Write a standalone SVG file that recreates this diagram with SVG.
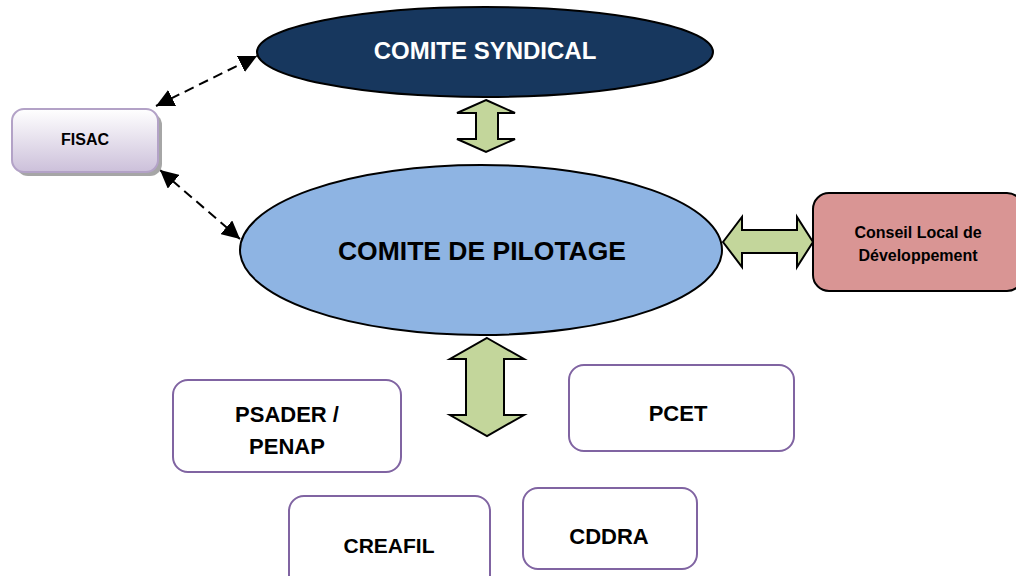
<svg xmlns="http://www.w3.org/2000/svg" width="1016" height="576" viewBox="0 0 1016 576">
<defs>
<style>
text{font-family:"Liberation Sans",Arial,sans-serif;font-weight:bold;text-anchor:middle;fill:#000}
.box{fill:#fff;stroke:#8064a2;stroke-width:2}
.big{fill:#c3d69b;stroke:#000;stroke-width:2;stroke-linejoin:miter}
.dash{stroke:#000;stroke-width:2;stroke-dasharray:10,6;fill:none}
</style>
<linearGradient id="fg" x1="0" y1="0" x2="0" y2="1">
<stop offset="0" stop-color="#ffffff"/>
<stop offset="1" stop-color="#ccc0da"/>
</linearGradient>
<marker id="ah2" viewBox="0 0 10 10" refX="10" refY="5" markerWidth="18" markerHeight="18" markerUnits="userSpaceOnUse" orient="auto-start-reverse">
<path d="M0,0 L10,5 L0,10 z" fill="#000"/>
</marker>
</defs>
<rect width="1016" height="576" fill="#fff"/>
<g id="connectors">
<line class="dash" x1="156" y1="106" x2="257" y2="56" marker-start="url(#ah2)" marker-end="url(#ah2)"/>
<line class="dash" x1="160" y1="170" x2="240" y2="239" marker-start="url(#ah2)" marker-end="url(#ah2)"/>
<path class="big" d="M486,100 L515,113 L498,113 L498,139 L515,139 L486,152 L457,139 L476,139 L476,113 L457,113 Z"/>
<path class="big" d="M487,338 L524,359 L504,359 L504,415 L524,415 L487,436 L450,415 L466,415 L466,359 L450,359 Z"/>
<path class="big" d="M723,242 L742,217 L742,230 L797,230 L797,217 L813,242 L797,267 L797,253 L742,253 L742,267 Z"/>
</g>
<g id="comite-syndical">
<ellipse cx="485" cy="52" rx="228" ry="45" fill="#17375e" stroke="#000" stroke-width="2"/>
<text x="485" y="59" font-size="24" style="fill:#fff">COMITE SYNDICAL</text>
</g>
<g id="comite-pilotage">
<ellipse cx="481" cy="250" rx="241" ry="85" fill="#8eb4e3" stroke="#000" stroke-width="2"/>
<text x="482" y="260" font-size="26.5">COMITE DE PILOTAGE</text>
</g>
<g id="fisac">
<rect x="16" y="113" width="146" height="63" rx="12" fill="#a6a6a6"/>
<rect x="12" y="109" width="146" height="63" rx="12" fill="url(#fg)" stroke="#b3a2c7" stroke-width="2"/>
<text x="85" y="145" font-size="16">FISAC</text>
</g>
<g id="conseil">
<rect x="813" y="193" width="210" height="98" rx="16" fill="#d99594" stroke="#000" stroke-width="2"/>
<text x="918" y="238" font-size="16">Conseil Local de</text>
<text x="918" y="261" font-size="16">Développement</text>
</g>
<g id="psader">
<rect class="box" x="173" y="380" width="228" height="92" rx="15"/>
<text x="287" y="422" font-size="22">PSADER /</text>
<text x="287" y="454" font-size="22">PENAP</text>
</g>
<g id="pcet">
<rect class="box" x="569" y="365" width="225" height="86" rx="15"/>
<text x="678" y="421" font-size="22">PCET</text>
</g>
<g id="creafil">
<rect class="box" x="289" y="496" width="201" height="100" rx="15"/>
<text x="389" y="553" font-size="21">CREAFIL</text>
</g>
<g id="cddra">
<rect class="box" x="523" y="488" width="174" height="81" rx="15"/>
<text x="609" y="544" font-size="22">CDDRA</text>
</g>
</svg>
